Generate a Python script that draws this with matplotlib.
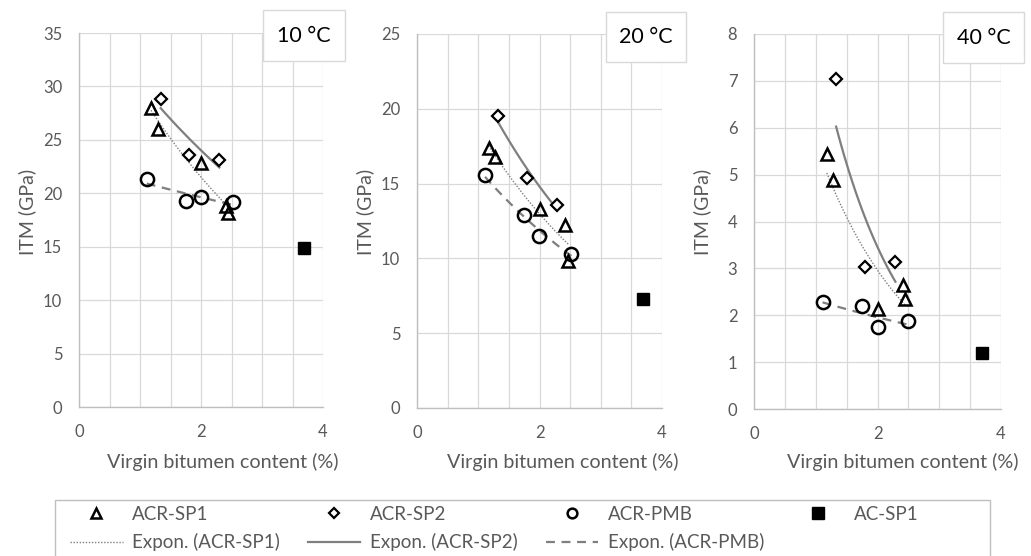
import numpy as np
import matplotlib
matplotlib.use("Agg")
import matplotlib.pyplot as plt
from matplotlib.patches import Rectangle
from matplotlib.lines import Line2D

# data (virgin bitumen content %, ITM GPa)
temps = ["10 °C", "20 °C", "40 °C"]

sp1_x = [[1.18, 1.29, 2.00, 2.41, 2.45],
         [1.17, 1.28, 2.00, 2.42, 2.47],
         [1.18, 1.28, 2.00, 2.41, 2.45]]
sp1_y = [[28.0, 26.0, 22.8, 18.8, 18.2],
         [17.35, 16.8, 13.3, 12.25, 9.85],
         [5.45, 4.89, 2.13, 2.65, 2.35]]

sp2_x = [[1.34, 1.81, 2.30],
         [1.33, 1.79, 2.29],
         [1.33, 1.79, 2.29]]
sp2_y = [[28.85, 23.6, 23.1],
         [19.5, 15.35, 13.55],
         [7.05, 3.04, 3.14]]

pmb_x = [[1.11, 1.75, 2.00, 2.52],
         [1.11, 1.75, 1.99, 2.52],
         [1.11, 1.75, 2.00, 2.50]]
pmb_y = [[21.3, 19.3, 19.65, 19.2],
         [15.55, 12.92, 11.52, 10.32],
         [2.28, 2.19, 1.75, 1.87]]

ac_x = [3.69, 3.69, 3.70]
ac_y = [14.88, 7.31, 1.19]

y_max = [35, 25, 8]
y_step = [5, 5, 1]

W, H = 1031, 556
GREY = "#595959"
GRID = "#d9d9d9"
plt.rcParams["font.family"] = ["Lato", "DejaVu Sans"]


def fig_rect(left, top, right, bottom):
    return [left / W, 1 - bottom / H, (right - left) / W, (bottom - top) / H]


def expon_fit(x, y):
    # Excel style exponential trendline: y = a*exp(b*x)
    b, ln_a = np.polyfit(x, np.log(y), 1)
    xs = np.linspace(min(x), max(x), 50)
    return xs, np.exp(ln_a) * np.exp(b * xs)


fig = plt.figure(figsize=(W / 100, H / 100), dpi=100)
fig.patch.set_facecolor("white")

ax_px = [(79, 33, 323, 407), (417, 34, 662, 408), (754, 34, 1001, 409)]
box_px = [(263, 10, 345, 61), (606, 12, 686, 62), (943, 12, 1024, 63)]
ylab_x = [27, 365, 702]
xlab_cx = [223, 563, 903]

for i in range(3):
    ax = fig.add_axes(fig_rect(*ax_px[i]))
    ax.set_xlim(0, 4)
    ax.set_ylim(0, y_max[i])
    ax.set_xticks([0, 2, 4])
    ax.set_xticks(np.arange(0, 4.01, 0.5), minor=True)
    ax.set_yticks(np.arange(0, y_max[i] + 0.01, y_step[i]))
    ax.grid(True, which="both", color=GRID, linewidth=0.9)
    ax.set_axisbelow(True)
    ax.tick_params(which="both", length=0, colors=GREY, labelsize=12)
    ax.tick_params(axis="x", pad=12)
    ax.tick_params(axis="y", pad=12)
    for s in ["top", "right"]:
        ax.spines[s].set_visible(False)
    for s in ["left", "bottom"]:
        ax.spines[s].set_color("#bfbfbf")
        ax.spines[s].set_linewidth(1.0)

    # trendlines
    xs, ys = expon_fit(sp1_x[i], sp1_y[i])
    ax.plot(xs, ys, linestyle=(0, (1, 1.2)), color="#7f7f7f", linewidth=1.0, zorder=2)
    xs, ys = expon_fit(sp2_x[i], sp2_y[i])
    ax.plot(xs, ys, linestyle="-", color="#7f7f7f", linewidth=1.6, zorder=2)
    xs, ys = expon_fit(pmb_x[i], pmb_y[i])
    ax.plot(xs, ys, linestyle=(0, (4, 3)), color="#7f7f7f", linewidth=1.6, zorder=2)

    # points
    ax.plot(sp1_x[i], sp1_y[i], "^", ms=8.5, mfc="none", mec="black", mew=1.8, ls="none", zorder=3)
    ax.plot(sp2_x[i], sp2_y[i], "D", ms=6.0, mfc="white", mec="black", mew=1.6, ls="none", zorder=3)
    ax.plot(pmb_x[i], pmb_y[i], "o", ms=9.5, mfc="none", mec="black", mew=1.8, ls="none", zorder=3)
    ax.plot([ac_x[i]], [ac_y[i]], "s", ms=8, mfc="black", mec="black", ls="none", zorder=3)

    fig.text(ylab_x[i] / W, 1 - 212 / H, "ITM (GPa)", rotation=90, ha="center", va="center",
             color=GREY, fontsize=14)
    fig.text(xlab_cx[i] / W, 1 - 462 / H, "Virgin bitumen content (%)", ha="center", va="center",
             color=GREY, fontsize=14.2)

    bl, bt, br, bb = box_px[i]
    fig.add_artist(Rectangle((bl / W, 1 - bb / H), (br - bl) / W, (bb - bt) / H,
                             transform=fig.transFigure, facecolor="white", edgecolor=GRID,
                             linewidth=1.0, zorder=5))
    fig.text((bl + br) / 2 / W, 1 - (bt + bb) / 2 / H, temps[i], ha="center", va="center",
             fontsize=15.5, color="black", zorder=6)

# legend frame (drawn separately: the padding is wider at the sides than on top)
fig.add_artist(Rectangle((55 / W, -0.05), (990 - 55) / W, 0.05 + 1 - 500 / H,
                         transform=fig.transFigure, facecolor="white", edgecolor="#bfbfbf",
                         linewidth=1.0, zorder=1))

h_sp1 = Line2D([], [], marker="^", ms=6.5, mfc="none", mec="black", mew=1.8, ls="none")
h_sp2 = Line2D([], [], marker="D", ms=5.5, mfc="white", mec="black", mew=1.6, ls="none")
h_pmb = Line2D([], [], marker="o", ms=7, mfc="none", mec="black", mew=1.8, ls="none")
h_ac = Line2D([], [], marker="s", ms=8.5, mfc="black", mec="black", ls="none")
h_e1 = Line2D([], [], ls=(0, (1, 1.2)), color="#7f7f7f", lw=1.0)
h_e2 = Line2D([], [], ls="-", color="#7f7f7f", lw=1.6)
h_e3 = Line2D([], [], ls=(0, (4, 3)), color="#7f7f7f", lw=1.6)

handles = [h_sp1, h_e1, h_sp2, h_e2, h_pmb, h_e3, h_ac]
labels = ["ACR-SP1", "Expon. (ACR-SP1)", "ACR-SP2", "Expon. (ACR-SP2)",
          "ACR-PMB", "Expon. (ACR-PMB)", "AC-SP1"]
leg = fig.legend(handles, labels, ncol=4, loc="upper left",
                 bbox_to_anchor=(70 / W, 1 - 506 / H), frameon=False,
                 prop={"size": 13.5}, borderpad=0, borderaxespad=0,
                 handlelength=2.8, handletextpad=0.5, columnspacing=1.5,
                 labelspacing=0.55, labelcolor=GREY)
leg.set_zorder(2)

fig.savefig("out.png", dpi=100, facecolor="white")
